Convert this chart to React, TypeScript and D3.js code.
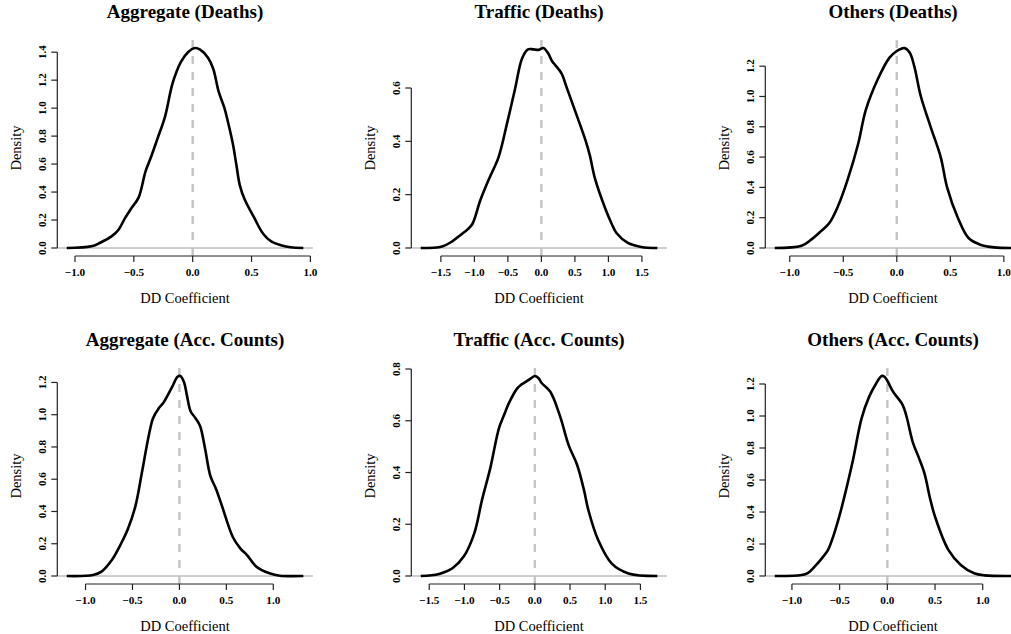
import React, { useRef, useEffect } from "react";
import * as d3 from "d3";

// density curves, one pair of arrays per panel
const aggDeathsX = [-1.07, -0.86, -0.79, -0.69, -0.63, -0.575, -0.52, -0.46, -0.4, -0.35, -0.3, -0.235, -0.17, -0.1, -0.04, 0.02, 0.06, 0.13, 0.175, 0.22, 0.27, 0.3, 0.34, 0.37, 0.4, 0.44, 0.52, 0.6, 0.67, 0.75, 0.83, 0.94];
const aggDeathsY = [0, 0.012, 0.036, 0.083, 0.131, 0.214, 0.286, 0.36, 0.55, 0.66, 0.78, 0.94, 1.18, 1.33, 1.4, 1.43, 1.42, 1.36, 1.28, 1.12, 1.0, 0.9, 0.75, 0.6, 0.45, 0.35, 0.22, 0.1, 0.045, 0.02, 0.005, 0];

const trafDeathsX = [-1.8, -1.48, -1.33, -1.2, -1.1, -1.03, -0.91, -0.78, -0.64, -0.51, -0.39, -0.29, -0.2, -0.12, -0.04, 0.03, 0.1, 0.16, 0.21, 0.3, 0.38, 0.48, 0.65, 0.72, 0.8, 0.95, 1.05, 1.12, 1.29, 1.49, 1.73];
const trafDeathsY = [0, 0.006, 0.025, 0.05, 0.07, 0.09, 0.18, 0.26, 0.34, 0.47, 0.6, 0.71, 0.745, 0.745, 0.743, 0.75, 0.73, 0.7, 0.685, 0.655, 0.6, 0.53, 0.41, 0.35, 0.26, 0.15, 0.09, 0.056, 0.019, 0.004, 0];

const othDeathsX = [-1.14, -0.89, -0.8, -0.71, -0.63, -0.55, -0.46, -0.36, -0.29, -0.18, -0.07, 0.0, 0.04, 0.07, 0.12, 0.163, 0.225, 0.316, 0.41, 0.47, 0.57, 0.67, 0.78, 0.91, 1.07];
const othDeathsY = [0, 0.015, 0.055, 0.11, 0.165, 0.275, 0.45, 0.69, 0.91, 1.11, 1.255, 1.3, 1.314, 1.32, 1.29, 1.2, 1.0, 0.8, 0.6, 0.4, 0.2, 0.066, 0.022, 0.004, 0];

const aggCountsX = [-1.2, -0.92, -0.83, -0.72, -0.62, -0.55, -0.47, -0.4, -0.33, -0.28, -0.22, -0.17, -0.08, -0.02, 0.01, 0.05, 0.08, 0.12, 0.17, 0.22, 0.27, 0.33, 0.39, 0.45, 0.57, 0.65, 0.72, 0.82, 0.96, 1.07, 1.32];
const aggCountsY = [0, 0.006, 0.027, 0.099, 0.203, 0.29, 0.43, 0.64, 0.86, 0.98, 1.04, 1.075, 1.17, 1.235, 1.24, 1.2, 1.12, 1.02, 0.98, 0.93, 0.8, 0.62, 0.54, 0.44, 0.24, 0.17, 0.13, 0.058, 0.017, 0.002, 0];

const trafCountsX = [-1.62, -1.36, -1.17, -1.01, -0.86, -0.75, -0.63, -0.51, -0.44, -0.37, -0.25, -0.2, -0.13, -0.05, 0.0, 0.05, 0.1, 0.22, 0.36, 0.48, 0.6, 0.7, 0.76, 0.9, 1.09, 1.33, 1.74];
const trafCountsY = [0, 0.008, 0.03, 0.075, 0.165, 0.294, 0.42, 0.571, 0.62, 0.667, 0.725, 0.738, 0.75, 0.765, 0.773, 0.765, 0.745, 0.712, 0.616, 0.506, 0.43, 0.33, 0.255, 0.139, 0.049, 0.01, 0];

const othCountsX = [-1.18, -0.9, -0.83, -0.76, -0.68, -0.62, -0.56, -0.5, -0.45, -0.36, -0.27, -0.19, -0.12, -0.06, -0.03, 0.0, 0.06, 0.16, 0.2, 0.27, 0.33, 0.39, 0.45, 0.5, 0.64, 0.77, 0.91, 1.02, 1.3];
const othCountsY = [0, 0.006, 0.02, 0.06, 0.115, 0.165, 0.26, 0.38, 0.496, 0.725, 0.985, 1.121, 1.2, 1.25, 1.245, 1.22, 1.152, 1.07, 1.0, 0.83, 0.74, 0.64, 0.48, 0.371, 0.163, 0.069, 0.017, 0.004, 0];

const titles = [
  "Aggregate (Deaths)", "Traffic (Deaths)", "Others (Deaths)",
  "Aggregate (Acc. Counts)", "Traffic (Acc. Counts)", "Others (Acc. Counts)",
];
const curveXs = [aggDeathsX, trafDeathsX, othDeathsX, aggCountsX, trafCountsX, othCountsX];
const curveYs = [aggDeathsY, trafDeathsY, othDeathsY, aggCountsY, trafCountsY, othCountsY];

const xTicksNarrow = [-1, -0.5, 0, 0.5, 1];
const xTicksWide = [-1.5, -1, -0.5, 0, 0.5, 1, 1.5];
const xTickSets = [xTicksNarrow, xTicksWide, xTicksNarrow, xTicksNarrow, xTicksWide, xTicksNarrow];
const yTickSets = [
  [0, 0.2, 0.4, 0.6, 0.8, 1.0, 1.2, 1.4],
  [0, 0.2, 0.4, 0.6],
  [0, 0.2, 0.4, 0.6, 0.8, 1.0, 1.2],
  [0, 0.2, 0.4, 0.6, 0.8, 1.0, 1.2],
  [0, 0.2, 0.4, 0.6, 0.8],
  [0, 0.2, 0.4, 0.6, 0.8, 1.0, 1.2],
];

const W = 1011;
const H = 634;
const FONT = "'Liberation Serif', 'DejaVu Serif', serif";

const App = () => {
  const ref = useRef<SVGSVGElement>(null);

  useEffect(() => {
    const svg = d3.select(ref.current);
    svg.selectAll("*").remove();

    const plotW = 255.5;
    const plotH = 216;

    titles.forEach((title, i) => {
      const col = i % 3;
      const row = Math.floor(i / 3);
      const left = 57.3 + col * 354;
      const top = 40 + row * 328;

      const xs = curveXs[i];
      const ys = curveYs[i];
      const pts = xs.map((x, k) => [x, ys[k]] as [number, number]);

      // R style 4% padding on the data range
      const [x0, x1] = d3.extent(xs) as [number, number];
      const xPad = (x1 - x0) * 0.04;
      const yMax = d3.max(ys) as number;
      const yPad = yMax * 0.04;

      const x = d3.scaleLinear().domain([x0 - xPad, x1 + xPad]).range([0, plotW]);
      const y = d3.scaleLinear().domain([-yPad, yMax + yPad]).range([plotH, 0]);

      const g = svg.append("g").attr("transform", `translate(${left},${top})`);

      // title
      g.append("text")
        .attr("x", plotW / 2)
        .attr("y", -21.7)
        .attr("text-anchor", "middle")
        .attr("font-family", FONT)
        .attr("font-weight", "bold")
        .attr("font-size", "19px")
        .text(title);

      // horizontal zero line
      g.append("line")
        .attr("x1", 0)
        .attr("x2", plotW)
        .attr("y1", y(0))
        .attr("y2", y(0))
        .attr("stroke", "#bebebe")
        .attr("stroke-width", 1.3);

      // vertical dashed line at 0
      g.append("line")
        .attr("x1", x(0))
        .attr("x2", x(0))
        .attr("y1", 0)
        .attr("y2", plotH)
        .attr("stroke", "#c4c4c4")
        .attr("stroke-width", 2.4)
        .attr("stroke-dasharray", "8,8");

      // density curve
      const line = d3
        .line<[number, number]>()
        .x((d) => x(d[0]))
        .y((d) => y(Math.max(0, d[1])))
        .curve(d3.curveCatmullRom.alpha(0.5));

      g.append("path")
        .datum(pts)
        .attr("d", line)
        .attr("fill", "none")
        .attr("stroke", "black")
        .attr("stroke-width", 2.6)
        .attr("stroke-linejoin", "round");

      // x axis
      const xt = xTickSets[i];
      const xAxis = g.append("g").attr("transform", `translate(0,${plotH})`);
      xAxis.append("line")
        .attr("x1", x(xt[0]))
        .attr("x2", x(xt[xt.length - 1]))
        .attr("stroke", "#222")
        .attr("stroke-width", 1.2);
      xt.forEach((t) => {
        xAxis.append("line")
          .attr("x1", x(t))
          .attr("x2", x(t))
          .attr("y1", 0)
          .attr("y2", 6)
          .attr("stroke", "#222")
          .attr("stroke-width", 1.2);
        xAxis.append("text")
          .attr("x", x(t))
          .attr("y", 20)
          .attr("text-anchor", "middle")
          .attr("font-family", FONT)
          .attr("font-weight", "bold")
          .attr("font-size", "11.2px")
          .text(d3.format(".1f")(t).replace("-", "\u2212"));
      });
      xAxis.append("text")
        .attr("x", plotW / 2)
        .attr("y", 46.7)
        .attr("text-anchor", "middle")
        .attr("font-family", FONT)
        .attr("font-size", "14.5px")
        .text("DD Coefficient");

      // y axis
      const yt = yTickSets[i];
      const yAxis = g.append("g");
      yAxis.append("line")
        .attr("y1", y(yt[0]))
        .attr("y2", y(yt[yt.length - 1]))
        .attr("stroke", "#222")
        .attr("stroke-width", 1.2);
      yt.forEach((t) => {
        yAxis.append("line")
          .attr("x1", -6)
          .attr("x2", 0)
          .attr("y1", y(t))
          .attr("y2", y(t))
          .attr("stroke", "#222")
          .attr("stroke-width", 1.2);
        yAxis.append("text")
          .attr("transform", `translate(-11,${y(t)}) rotate(-90)`)
          .attr("text-anchor", "middle")
          .attr("font-family", FONT)
          .attr("font-weight", "bold")
          .attr("font-size", "11px")
          .text(d3.format(".1f")(t));
      });
      yAxis.append("text")
        .attr("transform", `translate(-36.5,${plotH / 2}) rotate(-90)`)
        .attr("text-anchor", "middle")
        .attr("font-family", FONT)
        .attr("font-size", "14.5px")
        .text("Density");
    });
  }, []);

  return (
    <svg
      ref={ref}
      width={W}
      height={H}
      style={{ position: "absolute", left: 0, top: 0, background: "white" }}
    ></svg>
  );
};

export default App;
